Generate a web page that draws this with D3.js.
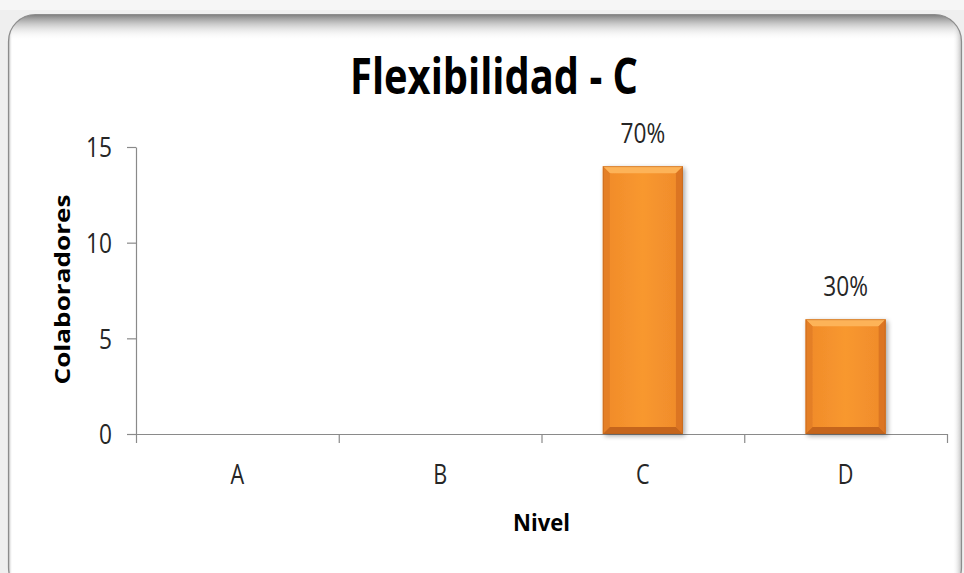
<!DOCTYPE html>
<html>
<head>
<meta charset="utf-8">
<script src="https://cdn.jsdelivr.net/npm/d3@7"></script>
<style>
  html, body { margin: 0; padding: 0; background: #f1f1f1; }
  svg { display: block; }
  text { font-family: "Open Sans", "Noto Sans", sans-serif; }
</style>
</head>
<body>
<svg id="chart" width="964" height="573"></svg>
<script>
// Survey data: number of staff per level
const categories = ["A", "B", "C", "D"];
const counts = [0, 0, 14, 6];
const yTicks = [0, 5, 10, 15];
const chartTitle = "Flexibilidad - C";
const yTitle = "Colaboradores";
const xTitle = "Nivel";

const svg = d3.select("#chart");
const W = 964, H = 573;
const defs = svg.append("defs");

// narrow the text horizontally to get a condensed look
function condense(sel, factor) {
  sel.each(function () {
    const len = this.getComputedTextLength();
    d3.select(this).attr("textLength", len * factor).attr("lengthAdjust", "spacingAndGlyphs");
  });
}

// ---- panel with rounded corners and inner shadow ----
const panel = { x: 8.5, y: 14.5, w: 953, h: 580, r: 27 };
svg.append("rect").attr("width", W).attr("height", H).attr("fill", "#efefef");
svg.append("rect").attr("width", W).attr("height", 10).attr("fill", "#f6f6f6");

defs.append("clipPath").attr("id", "panelClip")
  .append("rect").attr("x", panel.x).attr("y", panel.y)
  .attr("width", panel.w).attr("height", panel.h).attr("rx", panel.r);

const gTop = defs.append("linearGradient").attr("id", "shadeTop")
  .attr("x1", 0).attr("y1", 0).attr("x2", 0).attr("y2", 1);
gTop.append("stop").attr("offset", 0).attr("stop-color", "#6e6e6e").attr("stop-opacity", 0.9);
gTop.append("stop").attr("offset", 0.35).attr("stop-color", "#9a9a9a").attr("stop-opacity", 0.55);
gTop.append("stop").attr("offset", 1).attr("stop-color", "#ffffff").attr("stop-opacity", 0);

const gRight = defs.append("linearGradient").attr("id", "shadeRight")
  .attr("x1", 1).attr("y1", 0).attr("x2", 0).attr("y2", 0);
gRight.append("stop").attr("offset", 0).attr("stop-color", "#8a8a8a").attr("stop-opacity", 0.55);
gRight.append("stop").attr("offset", 1).attr("stop-color", "#ffffff").attr("stop-opacity", 0);

const gLeft = defs.append("linearGradient").attr("id", "shadeLeft")
  .attr("x1", 0).attr("y1", 0).attr("x2", 1).attr("y2", 0);
gLeft.append("stop").attr("offset", 0).attr("stop-color", "#7a7a7a").attr("stop-opacity", 0.6);
gLeft.append("stop").attr("offset", 1).attr("stop-color", "#ffffff").attr("stop-opacity", 0);

const panelG = svg.append("g").attr("clip-path", "url(#panelClip)");
panelG.append("rect").attr("x", panel.x).attr("y", panel.y)
  .attr("width", panel.w).attr("height", panel.h).attr("fill", "#ffffff");
panelG.append("rect").attr("x", panel.x).attr("y", panel.y)
  .attr("width", panel.w).attr("height", 26).attr("fill", "url(#shadeTop)");
panelG.append("rect").attr("x", panel.x + panel.w - 9).attr("y", panel.y)
  .attr("width", 9).attr("height", panel.h).attr("fill", "url(#shadeRight)");
panelG.append("rect").attr("x", panel.x).attr("y", panel.y)
  .attr("width", 4).attr("height", panel.h).attr("fill", "url(#shadeLeft)");
svg.append("rect").attr("x", panel.x).attr("y", panel.y)
  .attr("width", panel.w).attr("height", panel.h).attr("rx", panel.r)
  .attr("fill", "none").attr("stroke", "#8c8c8c").attr("stroke-width", 1.2);

// ---- scales ----
const plot = { left: 136, right: 947, top: 147, bottom: 434 };
const pad = 0.605;
const x = d3.scaleBand().domain(categories)
  .range([plot.left, plot.right]).paddingInner(pad).paddingOuter(pad / 2);
const xEdges = d3.scaleLinear().domain([0, categories.length]).range([plot.left, plot.right]);
const y = d3.scaleLinear().domain([0, 15]).range([plot.bottom, plot.top]);

const axisColor = "#8a8a8a";
const labelColor = "#262626";

// ---- y axis ----
const yAxis = svg.append("g").attr("transform", `translate(${plot.left},0)`)
  .call(d3.axisLeft(y).tickValues(yTicks).tickSize(9).tickPadding(15).tickSizeOuter(0));
yAxis.select(".domain").attr("stroke", axisColor).attr("stroke-width", 1.2);
yAxis.selectAll(".tick line").attr("stroke", axisColor).attr("stroke-width", 1.2);
yAxis.selectAll(".tick text").attr("fill", labelColor)
  .style("font-size", "27px").attr("dy", "0.36em")
  .call(condense, 0.84);

// ---- x axis: baseline and boundary ticks ----
const xTickAxis = svg.append("g").attr("transform", `translate(0,${plot.bottom})`)
  .call(d3.axisBottom(xEdges).tickValues(d3.range(categories.length + 1))
    .tickSize(9).tickFormat("").tickSizeOuter(0));
xTickAxis.select(".domain").attr("stroke", axisColor).attr("stroke-width", 1.2);
xTickAxis.selectAll(".tick line").attr("stroke", axisColor).attr("stroke-width", 1.2);

const xLabelAxis = svg.append("g").attr("transform", `translate(0,${plot.bottom})`)
  .call(d3.axisBottom(x).tickSize(0).tickPadding(30));
xLabelAxis.select(".domain").remove();
xLabelAxis.selectAll(".tick text").attr("fill", labelColor)
  .attr("dy", null).attr("y", 50)
  .style("font-size", "27px")
  .call(condense, 0.8);

// ---- bars with bevelled edges ----
const fillMain = defs.append("linearGradient").attr("id", "barMain")
  .attr("x1", 0).attr("y1", 0).attr("x2", 1).attr("y2", 0);
[[0, "#f08a2a"], [0.5, "#f8982f"], [1, "#ef8a2b"]].forEach(([o, c]) =>
  fillMain.append("stop").attr("offset", o).attr("stop-color", c));

const shadowF = defs.append("filter").attr("id", "barShadow")
  .attr("x", "-20%").attr("y", "-10%").attr("width", "150%").attr("height", "130%");
shadowF.append("feGaussianBlur").attr("in", "SourceAlpha").attr("stdDeviation", 2.5).attr("result", "b");
shadowF.append("feOffset").attr("in", "b").attr("dx", 2).attr("dy", 2).attr("result", "o");
shadowF.append("feComponentTransfer").attr("in", "o").attr("result", "s")
  .append("feFuncA").attr("type", "linear").attr("slope", 0.35);
const fm = shadowF.append("feMerge");
fm.append("feMergeNode").attr("in", "s");
fm.append("feMergeNode").attr("in", "SourceGraphic");

const bev = 7;
const barData = categories.map((c, i) => ({ cat: c, value: counts[i] }))
  .filter(d => d.value > 0);

const bars = svg.append("g").selectAll("g.bar").data(barData).join("g")
  .attr("class", "bar").attr("filter", "url(#barShadow)");

bars.each(function (d) {
  const g = d3.select(this);
  const x0 = x(d.cat), x1 = x0 + x.bandwidth();
  const y0 = y(d.value), y1 = y(0);
  const pts = a => a.map(p => p.join(",")).join(" ");
  g.append("rect").attr("x", x0).attr("y", y0)
    .attr("width", x1 - x0).attr("height", y1 - y0).attr("fill", "url(#barMain)");
  // top face
  g.append("polygon").attr("fill", "#fdb358")
    .attr("points", pts([[x0, y0], [x1, y0], [x1 - bev, y0 + bev], [x0 + bev, y0 + bev]]));
  // left face
  g.append("polygon").attr("fill", "#e47f28")
    .attr("points", pts([[x0, y0], [x0 + bev, y0 + bev], [x0 + bev, y1 - bev], [x0, y1]]));
  // right face
  g.append("polygon").attr("fill", "#dc7523")
    .attr("points", pts([[x1, y0], [x1, y1], [x1 - bev, y1 - bev], [x1 - bev, y0 + bev]]));
  // bottom face
  g.append("polygon").attr("fill", "#c5651c")
    .attr("points", pts([[x0, y1], [x0 + bev, y1 - bev], [x1 - bev, y1 - bev], [x1, y1]]));
  g.append("rect").attr("x", x0 + 0.5).attr("y", y0 + 0.5)
    .attr("width", x1 - x0 - 1).attr("height", y1 - y0 - 1)
    .attr("fill", "none").attr("stroke", "#b8601c").attr("stroke-width", 1).attr("stroke-opacity", 0.5);
});

// ---- value labels (share of total) ----
const total = d3.sum(counts);
svg.append("g").selectAll("text").data(barData).join("text")
  .attr("x", d => x(d.cat) + x.bandwidth() / 2)
  .attr("y", d => y(d.value) - 23)
  .attr("text-anchor", "middle")
  .attr("fill", labelColor)
  .style("font-size", "27px")
  .text(d => Math.round(d.value / total * 100) + "%")
  .call(condense, 0.84);

// ---- titles ----
svg.append("text").attr("x", 494).attr("y", 94)
  .attr("text-anchor", "middle").attr("fill", "#000")
  .attr("textLength", 288).attr("lengthAdjust", "spacingAndGlyphs")
  .style("font-size", "50px").style("font-weight", 700)
  .text(chartTitle);

svg.append("text")
  .attr("transform", `translate(70,${(plot.top + plot.bottom) / 2 - 1}) rotate(-90)`)
  .attr("text-anchor", "middle").attr("fill", "#000")
  .attr("textLength", 190).attr("lengthAdjust", "spacingAndGlyphs")
  .style("font-size", "22px").style("font-weight", 700)
  .text(yTitle);

svg.append("text").attr("x", (plot.left + plot.right) / 2).attr("y", 531)
  .attr("text-anchor", "middle").attr("fill", "#000")
  .attr("textLength", 57).attr("lengthAdjust", "spacingAndGlyphs")
  .style("font-size", "23px").style("font-weight", 700)
  .text(xTitle);
</script>
</body>
</html>
